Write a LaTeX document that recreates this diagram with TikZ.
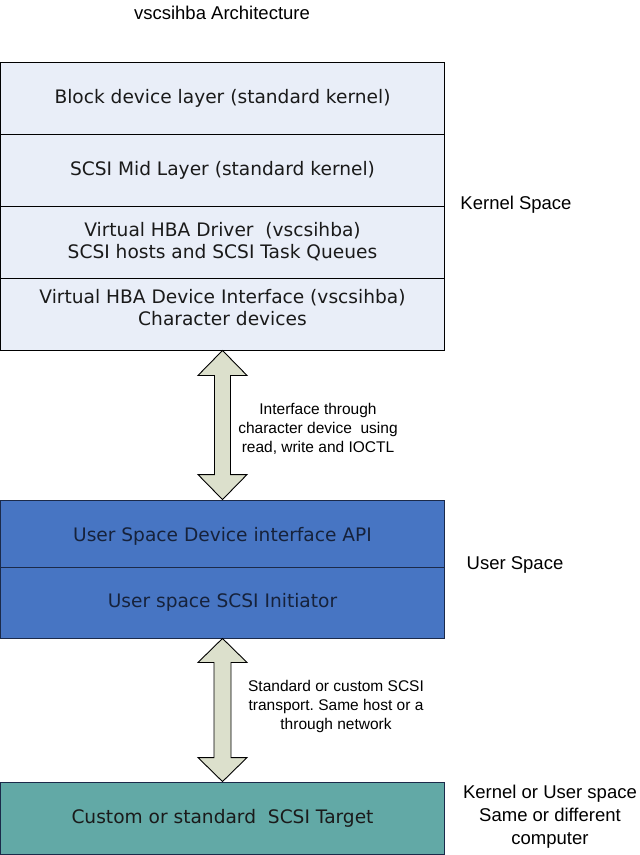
\documentclass[tikz,border=0pt]{standalone}
\usepackage{fontspec}
\setmainfont{DejaVu Sans}
\newfontfamily\arialf{Liberation Sans}
\usetikzlibrary{calc}
\definecolor{kfill}{HTML}{E9EEF8}
\definecolor{ufill}{HTML}{4775C3}
\definecolor{uline}{HTML}{1B2A4A}
\definecolor{tfill}{HTML}{62A9A6}
\definecolor{afill}{HTML}{DCE0CC}
\definecolor{btext}{HTML}{1A1A1A}
\begin{document}
\frenchspacing
\begin{tikzpicture}[x=1pt,y=-1pt,
  layer/.style={draw=black, line width=0.9pt, minimum width=444pt, inner sep=0pt,
    align=center, text=btext, font=\fontsize{18.6}{22}\selectfont},
  kbox/.style={layer, fill=kfill},
  ubox/.style={layer, fill=ufill, draw=uline, text=uline!80!black},
  tbox/.style={layer, fill=tfill, draw=uline},
  btxt/.style={align=center, text=btext, inner sep=0pt, font=\fontsize{18.6}{22}\selectfont},
  lbl/.style={font=\arialf\fontsize{18.5}{23}\selectfont, align=center, text=black},
  slbl/.style={font=\arialf\fontsize{15.5}{19}\selectfont, align=center, text=black},
  barrow/.style={draw=black, line width=0.9pt, fill=afill, line join=miter}]
\useasboundingbox[fill=white] (0,0) rectangle (640,855);

\node[lbl] (title) at (222,13) {vscsihba Architecture};

\node[kbox, minimum height=72pt] (k1) at (222.5,98) {Block device layer (standard kernel)};
\node[kbox, minimum height=72pt] (k2) at (222.5,170) {SCSI Mid Layer (standard kernel)};
\node[kbox, minimum height=72pt] (k3) at (222.5,242) {Virtual HBA Driver\ \ (vscsihba)\\SCSI hosts and SCSI Task Queues};
\node[kbox, minimum height=72pt] (k4) at (222.5,314) {};
\node[btxt] (k4t) at ($(k4.center)+(0,-6)$) {Virtual HBA Device Interface (vscsihba)\\Character devices};

\node[ubox, minimum height=67pt] (u1) at (222.5,533.5) {};
\node[btxt, text=uline!80!black] (u1t) at ($(u1.center)+(0,3)$) {User Space Device interface API};
\node[ubox, minimum height=71pt] (u2) at (222.5,602.5) {User space SCSI Initiator};

\node[tbox, minimum height=72pt] (t1) at (222.5,818) {Custom or standard\ \ SCSI Target};

\node[lbl] (ks) at (516,205) {Kernel Space};
\node[lbl] (us) at (515,565) {User Space};
\node[lbl] (os) at (550,817) {Kernel or User space\\Same or different\\computer};

\node[slbl] (l1) at (318,429) {Interface through\\character device\ \ using\\read, write and IOCTL};
\node[slbl] (l2) at (336,706) {Standard or custom SCSI\\transport. Same host or a\\through network};

\draw[barrow] let \p1=(k4.south), \p2=(u1.north) in
  (\x1,\y1) -- (\x1+24.5pt,\y1-25pt) -- (\x1+8pt,\y1-25pt) -- (\x1+8pt,\y2+25pt)
  -- (\x1+24.5pt,\y2+25pt) -- (\x2,\y2) -- (\x1-24.5pt,\y2+25pt) -- (\x1-8pt,\y2+25pt)
  -- (\x1-8pt,\y1-25pt) -- (\x1-24.5pt,\y1-25pt) -- cycle;
\draw[barrow] let \p1=(u2.south), \p2=(t1.north) in
  (\x1,\y1) -- (\x1+24.5pt,\y1-24pt) -- (\x1+8.5pt,\y1-24pt) -- (\x1+8.5pt,\y2+24pt)
  -- (\x1+24.5pt,\y2+24pt) -- (\x2,\y2) -- (\x1-24.5pt,\y2+24pt) -- (\x1-8.5pt,\y2+24pt)
  -- (\x1-8.5pt,\y1-24pt) -- (\x1-24.5pt,\y1-24pt) -- cycle;
\end{tikzpicture}
\end{document}
